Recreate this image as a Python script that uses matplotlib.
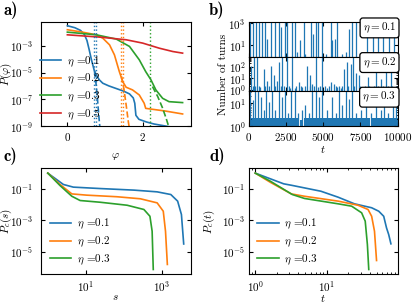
import numpy as np
import matplotlib
matplotlib.use("Agg")
import matplotlib.pyplot as plt
from matplotlib.ticker import NullLocator, FixedLocator, LogLocator

plt.rcParams.update({
    "font.family": "serif",
    "font.serif": ["cmr10"],
    "mathtext.fontset": "cm",
    "axes.formatter.use_mathtext": True,
    "axes.unicode_minus": False,
    "font.size": 8,
    "xtick.direction": "in",
    "ytick.direction": "in",
    "xtick.top": True,
    "ytick.right": True,
    "xtick.major.size": 3,
    "ytick.major.size": 3,
    "xtick.minor.size": 1.5,
    "ytick.minor.size": 1.5,
    "axes.linewidth": 0.8,
})

etas = ["0.1", "0.2", "0.3", "0.5"]
colors = ["C0", "C1", "C2", "C3"]

# ---------------- panel a : P(phi) (log10 values) ----------------
phi_a1 = [0, 0.2, 0.35, 0.45, 0.52, 0.58, 0.64, 0.71, 0.77, 0.85, 0.94, 1.1, 1.3, 1.5, 1.65, 1.75, 1.79, 1.82, 1.9, 2.1, 2.3, 2.6, 2.8]
logP_a1 = [-1.5, -1.65, -1.85, -2.15, -2.6, -3.3, -4.05, -4.8, -5.2, -5.55, -5.8, -6.0, -6.2, -6.4, -6.6, -6.9, -7.3, -8.2, -8.5, -8.7, -8.85, -9.0, -9.1]
phi_a2 = [0, 0.4, 0.77, 0.94, 1.12, 1.25, 1.38, 1.47, 1.56, 1.73, 1.91, 2.04, 2.08, 2.26, 2.6, 3.06]
logP_a2 = [-1.8, -1.98, -2.18, -2.43, -2.93, -3.68, -4.93, -5.68, -6.1, -6.3, -6.68, -7.3, -7.68, -7.75, -7.88, -8.1]
phi_a3 = [0, 0.77, 1.3, 1.65, 1.91, 2.08, 2.22, 2.35, 2.53, 2.7, 3.06]
logP_a3 = [-1.98, -2.18, -2.5, -3.05, -4.05, -4.93, -5.55, -6.3, -6.93, -7.18, -7.25]
phi_a5 = [0, 0.85, 1.56, 2.0, 2.44, 2.8, 3.06]
logP_a5 = [-2.18, -2.35, -2.55, -2.8, -3.18, -3.43, -3.55]
# gaussian approximations (dashed)
phi_g1 = [0.72, 0.76, 0.8, 0.84, 0.87]
logP_g1 = [-4.9, -5.8, -7.0, -8.4, -9.3]
phi_g2 = [1.44, 1.5, 1.56, 1.62, 1.66]
logP_g2 = [-5.3, -6.2, -7.4, -8.7, -9.4]
phi_g3 = [2.26, 2.4, 2.52, 2.62, 2.72]
logP_g3 = [-6.05, -6.8, -7.6, -8.4, -9.3]
# thresholds (dotted)
phi_thr = [0.71, 0.77, 1.43, 1.48, 2.2]
thr_col = ["C0", "C0", "C1", "C1", "C2"]

# ---------------- panel b : number of turns ----------------
t_b1 = [115, 270, 497, 676, 900, 1125, 1237, 1507, 1755, 2024, 2204, 2428, 2586, 2923, 3103, 3260, 3485,
        3709, 3820, 4158, 4316, 4495, 4675, 4900, 5170, 5507, 5620, 5800, 5956, 6293, 6518, 6743, 6922,
        7192, 7640, 7910, 8100, 8315, 8652, 8989, 9214, 9438, 9775]
n_b1 = [2000, 2000, 2000, 2000, 2000, 2000, 40, 2000, 2000, 2000, 450, 2000, 2000, 2000, 2000, 2.5, 28,
        2000, 1.7, 2000, 110, 2000, 2000, 2000, 1.7, 2000, 28, 40, 2000, 1.7, 2.5, 320, 2000,
        2000, 2.5, 2000, 1.7, 2000, 2000, 2000, 1.7, 2000, 2000]
t_b2 = [182, 340, 563, 788, 1010, 1237, 1530, 1685, 1910, 2024, 2250, 2586, 2810, 2923, 3100, 3370, 3600,
        3934, 4090, 4270, 4495, 4675, 4940, 5280, 5507, 5730, 5956, 6180, 6405, 6630, 6855, 7000, 7190,
        7415, 7640, 7980, 8315, 8540, 8876, 9214, 9550, 9775]
n_b2 = [120, 1000, 1000, 1.7, 63, 6, 120, 17, 6, 235, 1000, 1000, 1.3, 1000, 1.5, 4.6, 1.7,
        120, 17, 3, 1000, 1.7, 1000, 1.4, 4.6, 3, 1.7, 1.4, 63, 235, 170, 1000, 30,
        17, 1.7, 12, 1.4, 1000, 8, 63, 1000, 1.4]
t_b2s = [300, 450, 700, 1100, 1400, 1800, 2150, 2400, 2700, 3200, 3500, 3800, 4150, 4400, 4800, 5100,
         5400, 5850, 6050, 6300, 6700, 7100, 7500, 7800, 8100, 8400, 8700, 9000, 9350, 9650, 9900]
t_b3 = [115, 270, 407, 631, 856, 1010, 1170, 1395, 1575, 1800, 2024, 2250, 2473, 2653, 2878, 3103, 3327,
        3597, 3820, 4045, 4270, 4495, 4720, 4945, 5280, 5620, 5843, 6068, 6293, 6518, 6743, 6967, 7190,
        7530, 7866, 8200, 8540, 8876, 9100, 9380, 9663, 9900]
n_b3 = [50, 13, 50, 50, 18, 4.8, 50, 11, 50, 4.8, 50, 18, 50, 3.5, 50, 50, 3.5,
        4.8, 8, 3.5, 50, 50, 18, 50, 4.8, 18, 3.5, 50, 8, 50, 15, 50, 3.5,
        4.8, 50, 3.5, 50, 4.8, 50, 3.5, 50, 8]
base3_start = [0, 3450, 3700, 8250]
base3_end = [3350, 3620, 8150, 10000]
base3_level = [2.2, 1.8, 2.2, 2.2]

# ---------------- panel c : P_c(s) ----------------
s_c1 = [1, 2.57, 4.7, 24, 186, 760, 1740, 2630, 3310, 3800]
logP_c1 = [0, -0.72, -0.89, -0.98, -1.08, -1.19, -1.36, -1.78, -2.63, -4.5]
s_c2 = [1, 2.1, 4.3, 10.7, 66, 275, 760, 1100, 1260, 1410]
logP_c2 = [0, -0.72, -1.32, -1.4, -1.5, -1.63, -1.89, -2.42, -3.69, -5.8]
s_c3 = [1, 2.1, 4.3, 7.1, 24, 123, 340, 490, 560, 600]
logP_c3 = [0, -0.79, -1.47, -1.74, -1.85, -2.04, -2.31, -2.74, -3.69, -6.12]

# ---------------- panel d : P_c(t) ----------------
t_d1 = [1, 2.5, 3.2, 4.9, 8.3, 14.5, 24.5, 42.7, 53.7, 63, 69, 74, 79.5]
logP_d1 = [0, -0.68, -0.77, -0.94, -1.15, -1.53, -1.95, -2.2, -2.42, -2.74, -3.48, -3.9, -4.49]
t_d2 = [1, 1.62, 3.2, 4.9, 14.5, 27.5, 38, 42.7, 46.8, 50]
logP_d2 = [0, -0.58, -1.32, -1.47, -1.78, -2.04, -2.31, -2.74, -3.69, -5.55]
t_d3 = [1, 1.62, 3.3, 4.9, 14.5, 22.4, 30.9, 34.7, 37.2, 38.9]
logP_d3 = [0, -0.51, -1.36, -1.61, -1.95, -2.1, -2.52, -3.05, -4.53, -6.12]

W, H = 415, 302
fig = plt.figure(figsize=(W / 100, H / 100), dpi=100)

def rect(l, t, r, b):
    return [l / W, 1 - b / H, (r - l) / W, (b - t) / H]

leg_kw = dict(frameon=False, fontsize=8, handlelength=1.9, handletextpad=0.5,
              labelspacing=0.3, borderaxespad=0.0)

# ---- a
axa = fig.add_axes(rect(41, 22, 190.5, 126))
for ph, lp, c, e in zip([phi_a1, phi_a2, phi_a3, phi_a5], [logP_a1, logP_a2, logP_a3, logP_a5], colors, etas):
    axa.plot(ph, 10.0 ** np.array(lp), color=c, lw=1.2, label=r"$\eta$ =" + e)
for ph, lp, c in zip([phi_g1, phi_g2, phi_g3], [logP_g1, logP_g2, logP_g3], colors):
    axa.plot(ph, 10.0 ** np.array(lp), color=c, lw=1.2, ls="--")
for x, c in zip(phi_thr, thr_col):
    axa.axvline(x, color=c, lw=1.0, ls=":")
axa.set_yscale("log")
axa.set_ylim(1e-9, 6e-2)
axa.set_xlim(-0.7, 3.27)
axa.yaxis.set_major_locator(FixedLocator([1e-9, 1e-7, 1e-5, 1e-3]))
axa.yaxis.set_minor_locator(NullLocator())
axa.set_xticks([0, 2])
axa.tick_params(axis="y", pad=5.5)
axa.set_xlabel(r"$\varphi$", labelpad=6)
axa.set_ylabel(r"$P(\varphi)$")
axa.yaxis.set_label_coords(-0.182, 0.5)
axa.legend(loc="lower left", bbox_to_anchor=(-0.035, 0.0), **leg_kw)

# ---- b
tops = [22, 56.7, 91.3]
bots = [56.7, 91.3, 126]
axb = [fig.add_axes(rect(248.5, tops[i], 397.7, bots[i])) for i in range(3)]
for ax in axb:
    ax.set_yscale("log")
    ax.set_xlim(0, 10000)
    ax.tick_params(axis="y", pad=2)
axb[0].vlines(t_b1, 0.1, n_b1, color="C0", lw=0.9)
axb[0].set_ylim(1, 1250)
axb[0].yaxis.set_major_locator(FixedLocator([10, 1000]))
axb[1].vlines(t_b2, 0.1, n_b2, color="C0", lw=0.9)
axb[1].vlines(t_b2s, 0.1, [2] * len(t_b2s), color="C0", lw=0.9)
axb[1].set_ylim(0.72, 720)
axb[1].yaxis.set_major_locator(FixedLocator([1, 10, 100]))
axb[2].bar(base3_start, base3_level, width=np.array(base3_end) - np.array(base3_start),
           align="edge", color="C0", lw=0, bottom=0.1)
axb[2].vlines(t_b3, 0.1, n_b3, color="C0", lw=0.9)
axb[2].set_ylim(1, 32)
axb[2].yaxis.set_major_locator(FixedLocator([1, 10]))
for i, ax in enumerate(axb):
    ax.yaxis.set_minor_locator(LogLocator(subs=np.arange(2, 10)))
    ax.yaxis.set_minor_formatter(plt.NullFormatter())
    ax.text(0.99, 0.83, r"$\eta = %s$" % etas[i], transform=ax.transAxes, ha="right", va="center",
            fontsize=8, bbox=dict(boxstyle="round,pad=0.25", fc="white", ec="black", lw=0.9))
    if i < 2:
        ax.set_xticklabels([])
axb[2].set_xticks([0, 2500, 5000, 7500, 10000])
axb[2].set_xlabel(r"$t$", labelpad=1)
axb[1].set_ylabel("Number of turns")
axb[1].yaxis.set_label_coords(-0.14, 0.5)

# ---- c
axc = fig.add_axes(rect(41, 168.3, 190.5, 274.3))
for s, lp, c, e in zip([s_c1, s_c2, s_c3], [logP_c1, logP_c2, logP_c3], colors, etas):
    axc.plot(s, 10.0 ** np.array(lp), color=c, lw=1.2, label=r"$\eta$ =" + e)
axc.set_xscale("log")
axc.set_yscale("log")
axc.xaxis.set_major_locator(FixedLocator([10, 1000]))
axc.xaxis.set_minor_locator(NullLocator())
axc.yaxis.set_major_locator(FixedLocator([1e-1, 1e-3, 1e-5]))
axc.yaxis.set_minor_locator(NullLocator())
axc.tick_params(axis="y", pad=5.5)
axc.set_xlabel(r"$s$", labelpad=-1)
axc.set_ylabel(r"$P_c(s)$")
axc.yaxis.set_label_coords(-0.182, 0.5)
axc.legend(loc="lower left", bbox_to_anchor=(0.03, 0.03), **leg_kw)

# ---- d
axd = fig.add_axes(rect(248.5, 168.3, 397.7, 274.3))
for t, lp, c, e in zip([t_d1, t_d2, t_d3], [logP_d1, logP_d2, logP_d3], colors, etas):
    axd.plot(t, 10.0 ** np.array(lp), color=c, lw=1.2, label=r"$\eta$ =" + e)
axd.set_xscale("log")
axd.set_yscale("log")
axd.xaxis.set_major_locator(FixedLocator([1, 10, 100]))
axd.xaxis.set_minor_locator(LogLocator(subs=np.arange(2, 10)))
axd.xaxis.set_minor_formatter(plt.NullFormatter())
axd.yaxis.set_major_locator(FixedLocator([1e-1, 1e-3, 1e-5]))
axd.yaxis.set_minor_locator(NullLocator())
axd.tick_params(axis="y", pad=2.2)
axd.set_xlabel(r"$t$", labelpad=-0.6)
axd.set_ylabel(r"$P_c(t)$")
axd.yaxis.set_label_coords(-0.21, 0.5)
axd.legend(loc="lower left", bbox_to_anchor=(0.03, 0.03), **leg_kw)

# panel labels
for x, y, lab in [(3, 15, "a)"), (209, 15, "b)"), (3, 161, "c)"), (209, 161, "d)")]:
    fig.text(x / W, 1 - y / H, lab, fontsize=12, family="cmb10", va="baseline")

fig.savefig("out.png", dpi=100)
